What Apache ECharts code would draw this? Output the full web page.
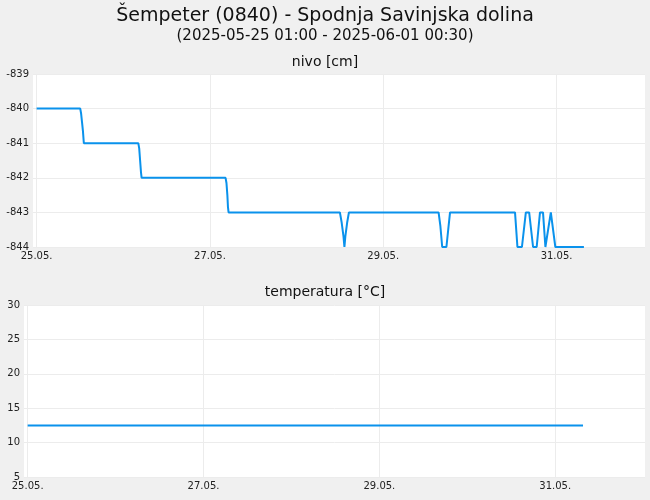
<!DOCTYPE html>
<html><head><meta charset="utf-8">
<script src="https://cdn.jsdelivr.net/npm/echarts@6/dist/echarts.min.js"></script>
<style>html,body{margin:0;padding:0;background:#f0f0f0}#c{width:650px;height:500px}</style>
</head><body><div id="c"></div>
<script>
// level breakpoints: [time "DD HH:MM" in May 2025, value cm]
const levelPoints = [
 ['25 00:00',-840],['25 12:05',-840],['25 12:20',-840.15],['25 12:35',-840.4],['25 12:50',-840.65],['25 13:05',-841],
 ['26 04:10',-841],['26 04:25',-841.15],['26 04:40',-841.5],['26 04:55',-841.85],['26 05:05',-842],
 ['27 04:20',-842],['27 04:35',-842.15],['27 04:50',-842.5],['27 05:00',-842.85],['27 05:10',-843],
 ['28 12:00',-843],['28 12:30',-843.3],['28 13:00',-843.7],['28 13:15',-844],['28 13:30',-843.7],['28 14:00',-843.3],['28 14:30',-843],
 ['29 15:20',-843],['29 15:50',-843.4],['29 16:20',-844],['29 17:30',-844],['29 18:00',-843.5],['29 18:30',-843],
 ['30 12:30',-843],['30 13:10',-844],['30 14:25',-844],['30 15:30',-843],['30 16:25',-843],['30 17:30',-844],['30 18:30',-844],
 ['30 19:25',-843],['30 20:15',-843],['30 20:55',-844],['30 21:20',-844],['30 22:25',-843],['30 23:40',-844],['31 07:35',-844]
];
const tempPoints = [['25 00:00',12.5],['31 07:35',12.5]];
const xTickLabels = ['25.05.','27.05.','29.05.','31.05.'];
const levelTicks = [-844,-843,-842,-841,-840,-839];
const tempTicks = [5,10,15,20,25,30];

function ts(s){const [d,hm]=s.split(' ');const [h,m]=hm.split(':');return Date.UTC(2025,4,+d,+h,+m);}
const xMin = Date.UTC(2025,4,24,23,0), xMax = Date.UTC(2025,5,1,0,30);
const tickVals = xTickLabels.map(l=>Date.UTC(2025,4,+l.slice(0,2),0,0));
const fmt = v=>{const d=new Date(v);return String(d.getUTCDate()).padStart(2,'0')+'.'+String(d.getUTCMonth()+1).padStart(2,'0')+'.';};
const lab = {color:'#222',fontSize:10,fontFamily:'DejaVu Sans'};
function xAxis(i){return {type:'value',gridIndex:i,min:xMin,max:xMax,
 axisLine:{show:false},axisTick:{show:false,customValues:tickVals},
 axisLabel:Object.assign({customValues:tickVals,formatter:fmt,margin:4},lab),
 splitLine:{show:true,lineStyle:{color:'#ececec'}}};}
function yAxis(i,min,max,iv){return {type:'value',gridIndex:i,min,max,interval:iv,
 axisLine:{show:false},axisTick:{show:false},axisLabel:Object.assign({margin:4},lab),
 splitLine:{lineStyle:{color:'#ececec'}}};}
const chart = echarts.init(document.getElementById('c'));
const ts0 = {fontWeight:'normal',color:'#111',fontFamily:'DejaVu Sans'};
chart.setOption({
 backgroundColor:'#f0f0f0',animation:false,
 title:[
  {text:'Šempeter (0840) - Spodnja Savinjska dolina',left:'center',top:2,textStyle:Object.assign({fontSize:19},ts0)},
  {text:'(2025-05-25 01:00 - 2025-06-01 00:30)',left:'center',top:24,textStyle:Object.assign({fontSize:15},ts0)},
  {text:'nivo [cm]',left:'center',top:50,textStyle:Object.assign({fontSize:14},ts0)},
  {text:'temperatura [°C]',left:'center',top:280,textStyle:Object.assign({fontSize:14},ts0)}
 ],
 grid:[
  {left:33,right:5,top:74,height:173,show:true,backgroundColor:'#fff',borderWidth:0},
  {left:24,right:5,top:305,height:172,show:true,backgroundColor:'#fff',borderWidth:0}
 ],
 xAxis:[xAxis(0),xAxis(1)],
 yAxis:[yAxis(0,levelTicks[0],levelTicks[levelTicks.length-1],1),yAxis(1,tempTicks[0],tempTicks[tempTicks.length-1],5)],
 series:[
  {type:'line',xAxisIndex:0,yAxisIndex:0,data:levelPoints.map(p=>[ts(p[0]),p[1]]),showSymbol:false,lineStyle:{color:'#0a92ec',width:2},itemStyle:{color:'#0a92ec'}},
  {type:'line',xAxisIndex:1,yAxisIndex:1,data:tempPoints.map(p=>[ts(p[0]),p[1]]),showSymbol:false,lineStyle:{color:'#0a92ec',width:2},itemStyle:{color:'#0a92ec'}}
 ]
});
</script></body></html>
